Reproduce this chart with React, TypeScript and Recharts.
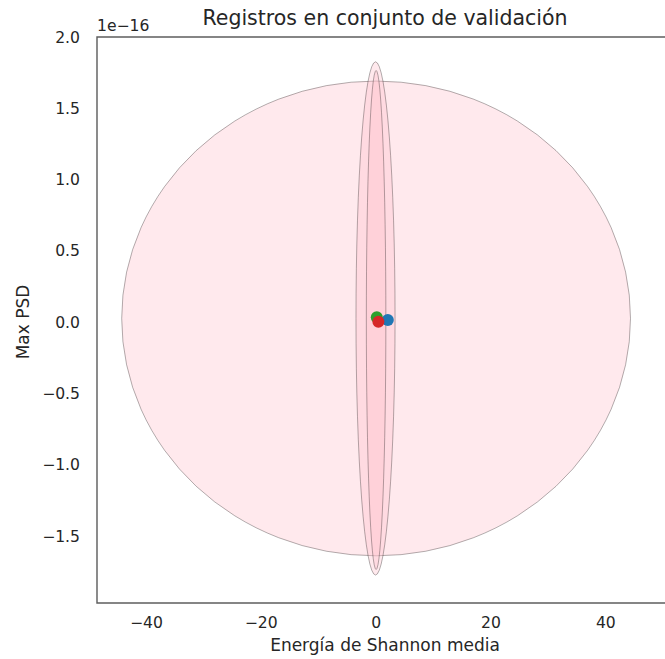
import React from 'react';
import { ScatterChart, Scatter, XAxis, YAxis, ReferenceArea } from 'recharts';

// axis ranges and ticks (y in units of 1e-16)
const xDomain = [-48.6, 51.7];
const yDomain = [-1.97, 2.0];
const xTicks = [-40, -20, 0, 20, 40];
const yTicks = [-1.5, -1.0, -0.5, 0.0, 0.5, 1.0, 1.5, 2.0];

// confidence ellipses: centre and half-axes
const ellipseCenterX = [0.0, -0.1, 0.0];
const ellipseCenterY = [0.026, 0.026, 0.015];
const ellipseRadiusX = [44.3, 3.4, 1.7];
const ellipseRadiusY = [1.665, 1.8, 1.75];

// class means, drawn in this order
const pointColors = ['#1f77b4', '#2ca02c', '#d62728'];
const pointX = [2.04, 0.12, 0.4];
const pointY = [0.015, 0.034, 0.0035];

const FONT = 'DejaVu Sans, sans-serif';
const TEXT = '#262626';

const fmtY = (v: number) => v.toFixed(1).replace('-', '\u2212');
const fmtX = (v: number) => String(v).replace('-', '\u2212');

const EllipseShape = (p: any) => {
  const w = Math.abs(p.width);
  const h = Math.abs(p.height);
  const x = Math.min(p.x, p.x + p.width);
  const y = Math.min(p.y, p.y + p.height);
  return (
    <ellipse
      cx={x + w / 2}
      cy={y + h / 2}
      rx={w / 2}
      ry={h / 2}
      fill="#ffc0cb"
      fillOpacity={0.35}
      stroke="#000"
      strokeOpacity={0.3}
      strokeWidth={1}
    />
  );
};

const Dot = (p: any) => <circle cx={p.cx} cy={p.cy} r={6} fill={p.fill} />;

export default function App() {
  return (
    <div style={{ position: 'absolute', left: 0, top: 0, width: 665, height: 659, overflow: 'hidden', background: '#fff' }}>
      <ScatterChart
        width={680}
        height={659}
        margin={{ top: 37, right: 7, bottom: 0, left: 17 }}
        style={{ fontFamily: FONT }}
      >
        <XAxis
          type="number"
          dataKey="x"
          domain={xDomain}
          ticks={xTicks}
          allowDataOverflow
          height={56}
          axisLine={false}
          tickLine={false}
          tickSize={0}
          tickMargin={14}
          tickFormatter={fmtX}
          tick={{ fill: TEXT, fontSize: 15.6 }}
          label={{ value: 'Energía de Shannon media', position: 'insideBottom', offset: 8, fill: TEXT, fontSize: 17 }}
        />
        <YAxis
          type="number"
          dataKey="y"
          domain={yDomain}
          ticks={yTicks}
          allowDataOverflow
          width={80}
          axisLine={false}
          tickLine={false}
          tickSize={0}
          tickMargin={17}
          tickFormatter={fmtY}
          tick={{ fill: TEXT, fontSize: 15.6 }}
        />
        {ellipseCenterX.map((cx, i) => (
          <ReferenceArea
            key={`ell-${i}`}
            x1={cx - ellipseRadiusX[i]}
            x2={cx + ellipseRadiusX[i]}
            y1={ellipseCenterY[i] - ellipseRadiusY[i]}
            y2={ellipseCenterY[i] + ellipseRadiusY[i]}
            ifOverflow="visible"
            shape={EllipseShape}
          />
        ))}
        {pointColors.map((c, i) => (
          <Scatter
            key={`pt-${i}`}
            data={[{ x: pointX[i], y: pointY[i] }]}
            fill={c}
            shape={Dot}
            isAnimationActive={false}
          />
        ))}
        {/* axes frame */}
        <ReferenceArea
          x1={xDomain[0]}
          x2={xDomain[1]}
          y1={yDomain[0]}
          y2={yDomain[1]}
          ifOverflow="visible"
          fill="none"
          stroke={TEXT}
          strokeWidth={1.4}
          strokeOpacity={0.75}
        />
      </ScatterChart>
      <svg width={665} height={659} style={{ position: 'absolute', left: 0, top: 0, pointerEvents: 'none', fontFamily: FONT }}>
        <text x={385} y={25} textAnchor="middle" fontSize={20.5} fill={TEXT}>
          Registros en conjunto de validación
        </text>
        <text x={97} y={31} fontSize={15.6} fill={TEXT}>
          1e{'\u2212'}16
        </text>
        <text x={29} y={322} transform="rotate(-90 29 322)" textAnchor="middle" fontSize={17} fill={TEXT}>
          Max PSD
        </text>
      </svg>
    </div>
  );
}
